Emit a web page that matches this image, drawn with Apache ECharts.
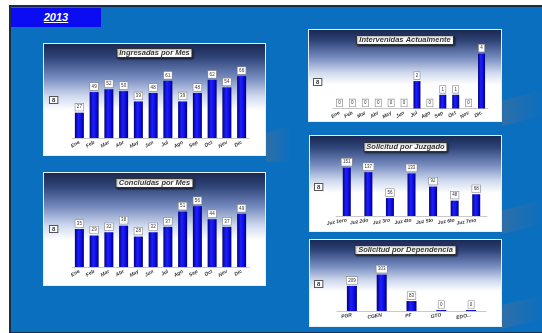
<!DOCTYPE html>
<html>
<head>
<meta charset="utf-8">
<script src="https://cdn.jsdelivr.net/npm/echarts@6/dist/echarts.min.js"></script>
<style>
  html, body { margin: 0; padding: 0; background: #fff; }
  body { width: 542px; height: 333px; position: relative; overflow: hidden; font-family: "Liberation Sans", sans-serif; }
  #bg { position: absolute; left: 9px; top: 5px; width: 535px; height: 325px; background: #0b6fc0;
        border-left: 2px solid #1b2a45; border-top: 2px solid #1b2a45; border-bottom: 2px solid #1b2a45; }
  #year { position: absolute; left: 11px; top: 8px; width: 90px; height: 19px; background: #0c0cf2;
          color: #fff; font: italic bold 11px "Liberation Sans", sans-serif; text-decoration: underline;
          line-height: 19px; text-align: center; }
  .panel { position: absolute; box-sizing: border-box; border: 1px solid #e8eef8;
           background: linear-gradient(to bottom, #1b2852 0%, #2f4478 12%, #7489bd 30%, #cfd9ee 47%, #ffffff 60%, #ffffff 100%); }
  .shade { position: absolute; background: linear-gradient(to right, rgba(70,110,150,0.6), rgba(11,111,192,0)); }
</style>
</head>
<body>
<div id="bg"></div>
<div class="shade" style="left:266px;top:126px;width:24px;height:36px;clip-path:polygon(0 20%,100% 0,100% 100%,0 100%);"></div>
<div class="shade" style="left:502px;top:90px;width:40px;height:36px;clip-path:polygon(0 30%,100% 0,100% 70%,0 100%);"></div>
<div class="shade" style="left:502px;top:200px;width:40px;height:34px;clip-path:polygon(0 30%,100% 0,100% 70%,0 100%);"></div>
<div class="shade" style="left:502px;top:295px;width:40px;height:34px;clip-path:polygon(0 30%,100% 0,100% 70%,0 100%);"></div>
<div id="year">2013</div>
<div class="panel" id="c1" style="left:43px;top:43px;width:223px;height:113px;"></div>
<div class="panel" id="c2" style="left:43px;top:172px;width:223px;height:114px;"></div>
<div class="panel" id="c3" style="left:308px;top:29px;width:194px;height:93px;"></div>
<div class="panel" id="c4" style="left:309px;top:135px;width:193px;height:97px;"></div>
<div class="panel" id="c5" style="left:309px;top:239px;width:193px;height:88px;"></div>
<script>
// data
const months = ['Ene', 'Feb', 'Mar', 'Abr', 'May', 'Jun', 'Jul', 'Ago', 'Sep', 'Oct', 'Nov', 'Dic'];
const ingresadas = [27, 49, 52, 50, 39, 48, 61, 39, 48, 62, 54, 66];
const concluidas = [35, 29, 32, 38, 28, 32, 37, 51, 56, 44, 37, 49];
const intervenidas = [0, 0, 0, 0, 0, 0, 2, 0, 1, 1, 0, 4];
const juzgados = ['Juz 1ero', 'Juz 2do', 'Juz 3ro', 'Juz 4to', 'Juz 5to', 'Juz 6to', 'Juz 7mo'];
const solicitudJuzgado = [151, 137, 56, 133, 92, 48, 68];
const dependencias = ['PGR', 'CGEN', 'PF', 'GTO', 'EDO...'];
const solicitudDependencia = [209, 303, 83, 0, 0];

const barColor = new echarts.graphic.LinearGradient(0, 0, 1, 0, [
  { offset: 0, color: '#00007a' },
  { offset: 0.4, color: '#1f1fff' },
  { offset: 0.75, color: '#0a0ae0' },
  { offset: 1, color: '#00006e' }
]);

function makeChart(id, title, cats, values, cfg) {
  var chart = echarts.init(document.getElementById(id));
  var option = {
    animation: false,
    textStyle: { fontFamily: 'Liberation Sans' },
    title: {
      text: title,
      left: 'center',
      top: cfg.titleTop,
      padding: [1, 3],
      backgroundColor: '#fff',
      borderColor: '#333',
      borderWidth: 1,
      shadowColor: 'rgba(0,0,0,0.5)',
      shadowBlur: 2,
      shadowOffsetX: 1,
      shadowOffsetY: 1,
      textStyle: { fontSize: 7.5, fontStyle: 'italic', fontWeight: 'bold', color: '#333' }
    },
    graphic: [{
      type: 'text',
      left: cfg.markX,
      top: cfg.markY,
      style: {
        text: '8', fontSize: 6, fontWeight: 'bold', fill: '#333',
        backgroundColor: '#fff', borderColor: '#555', borderWidth: 1, padding: [0, 2]
      }
    }],
    grid: cfg.grid,
    xAxis: {
      type: 'category',
      data: cats,
      axisLine: { lineStyle: { color: '#c8c8c8' } },
      axisTick: { show: false },
      axisLabel: {
        interval: 0, rotate: cfg.rotate, fontSize: 5, fontStyle: 'italic', fontWeight: 'bold',
        color: '#333', margin: 4
      }
    },
    yAxis: {
      type: 'value', min: 0, max: cfg.max,
      show: false
    },
    series: [{
      type: 'bar',
      data: values,
      barWidth: cfg.barWidth,
      barMinHeight: cfg.minH,
      itemStyle: { color: barColor },
      label: {
        show: true, position: 'top', distance: 2,
        fontSize: 4.5, color: '#333',
        backgroundColor: '#fff', borderColor: '#888', borderWidth: 0.6, padding: [1, 1.5]
      }
    }]
  };
  chart.setOption(option);
  return chart;
}

makeChart('c1', 'Ingresadas por Mes', months, ingresadas, {
  titleTop: 4, markX: 5, markY: 52, rotate: 30, barWidth: 9, max: 80, minH: 0,
  grid: { left: 28, right: 16, top: 19, bottom: 17 }
});
makeChart('c2', 'Concluidas por Mes', months, concluidas, {
  titleTop: 5, markX: 5, markY: 52, rotate: 30, barWidth: 9, max: 70, minH: 0,
  grid: { left: 28, right: 16, top: 18, bottom: 18 }
});
makeChart('c3', 'Intervenidas Actualmente', months, intervenidas, {
  titleTop: 5, markX: 4, markY: 48, rotate: 30, barWidth: 7, max: 5, minH: 0,
  grid: { left: 24, right: 13, top: 10, bottom: 9 }
});
makeChart('c4', 'Solicitud por Juzgado', juzgados, solicitudJuzgado, {
  titleTop: 6, markX: 4, markY: 47, rotate: 10, barWidth: 8, max: 200, minH: 0,
  grid: { left: 26, right: 14, top: 16, bottom: 15 }
});
makeChart('c5', 'Solicitud por Dependencia', dependencias, solicitudDependencia, {
  titleTop: 5, markX: 4, markY: 40, rotate: 10, barWidth: 10, max: 400, minH: 1,
  grid: { left: 27, right: 15, top: 23, bottom: 15 }
});
</script>
</body>
</html>
